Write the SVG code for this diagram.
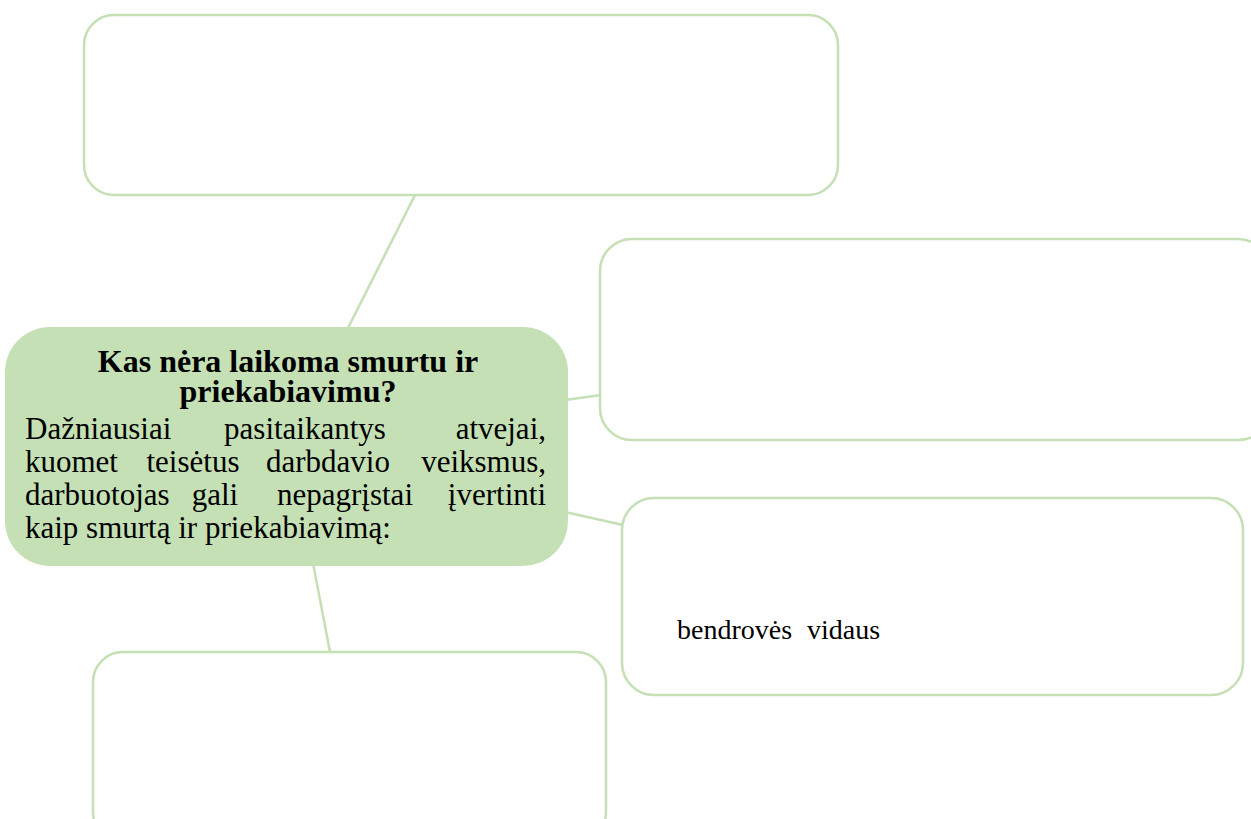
<svg xmlns="http://www.w3.org/2000/svg" width="1251" height="819" viewBox="0 0 1251 819">
<style>
.box{fill:#ffffff;stroke:#c5e0b4;stroke-width:2.5}
.center{fill:#c5e0b4;stroke:none}
.conn{stroke:#c5e0b4;stroke-width:2.5;fill:none}
.t{font-family:"Liberation Serif","Times New Roman",serif;font-size:31px;fill:#000}
.b{font-weight:bold;text-anchor:middle;font-size:32px}
.s{font-family:"Liberation Serif","Times New Roman",serif;font-size:28px;fill:#000}
</style>
<rect width="1251" height="819" fill="#ffffff"/>
<g id="connectors">
<line class="conn" x1="415" y1="195" x2="347" y2="330"/>
<line class="conn" x1="565" y1="400" x2="601" y2="395"/>
<line class="conn" x1="565" y1="512" x2="623" y2="525"/>
<line class="conn" x1="313" y1="563" x2="330" y2="652"/>
</g>
<g id="node-top"><rect class="box" x="84" y="15" width="754" height="180" rx="30"/></g>
<g id="node-right1"><rect class="box" x="600" y="239" width="670" height="201" rx="32"/></g>
<g id="node-right2"><rect class="box" x="622" y="498" width="621" height="197" rx="32"/>
<text class="s" x="677" y="639">bendrovės</text><text class="s" x="807" y="639">vidaus</text></g>
<g id="node-bottom"><rect class="box" x="93" y="652" width="513" height="190" rx="30"/></g>
<g id="node-center"><rect class="center" x="5" y="327" width="563" height="239" rx="45"/>
<text class="t b" x="288" y="372">Kas nėra laikoma smurtu ir</text>
<text class="t b" x="288" y="402">priekabiavimu?</text>
<text class="t" y="439"><tspan x="25">Dažniausiai</tspan><tspan x="305" text-anchor="middle">pasitaikantys</tspan><tspan x="546" text-anchor="end">atvejai,</tspan></text>
<text class="t" y="472"><tspan x="25">kuomet</tspan><tspan x="193" text-anchor="middle">teisėtus</tspan><tspan x="328" text-anchor="middle">darbdavio</tspan><tspan x="546" text-anchor="end">veiksmus,</tspan></text>
<text class="t" y="505"><tspan x="25">darbuotojas</tspan><tspan x="215" text-anchor="middle">gali</tspan><tspan x="345" text-anchor="middle">nepagrįstai</tspan><tspan x="546" text-anchor="end">įvertinti</tspan></text>
<text class="t" x="25" y="538">kaip smurtą ir priekabiavimą:</text>
</g>
</svg>
